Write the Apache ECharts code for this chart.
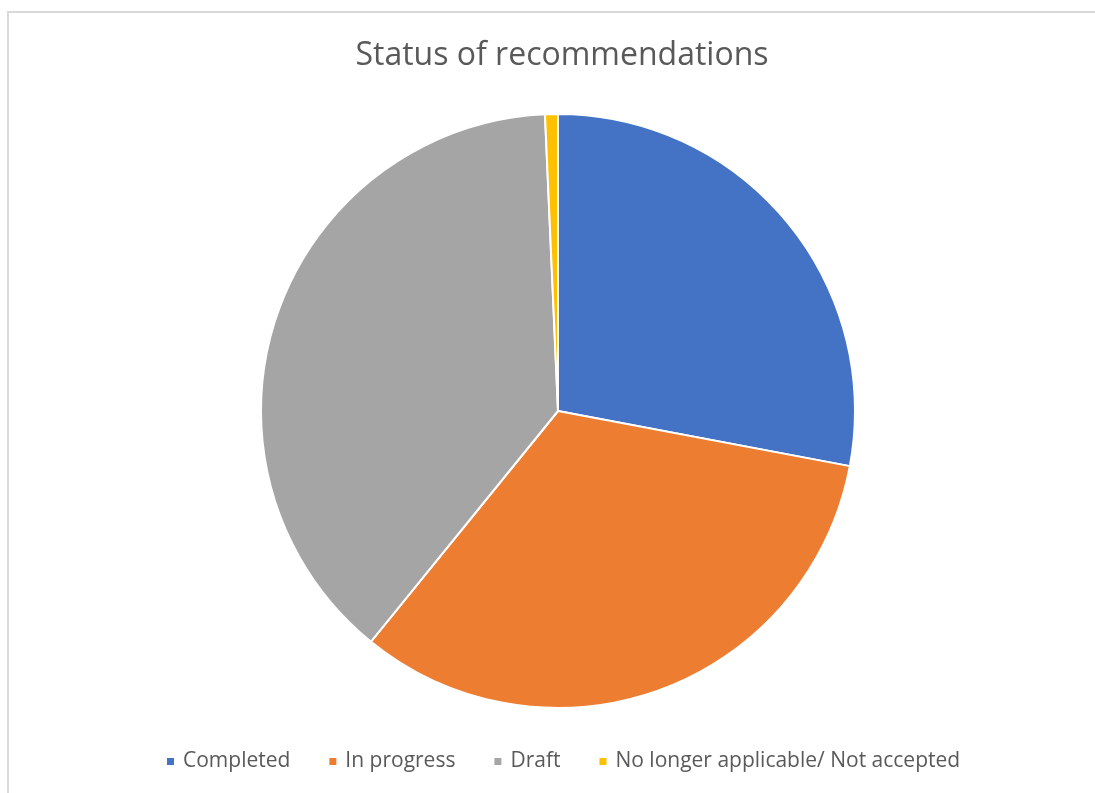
<!DOCTYPE html>
<html>
<head>
<meta charset="utf-8">
<script src="https://cdn.jsdelivr.net/npm/echarts@6/dist/echarts.min.js"></script>
<style>
  html, body { margin: 0; padding: 0; background: #ffffff; }
  #chart { width: 1095px; height: 793px; }
</style>
</head>
<body>
<div id="chart"></div>
<script>
// Recommendation counts by status
const categories = ['Completed', 'In progress', 'Draft', 'No longer applicable/ Not accepted'];
const counts = [40, 47, 55, 1];
const colors = ['#4472C4', '#ED7D31', '#A5A5A5', '#FFC000'];

const chart = echarts.init(document.getElementById('chart'));
chart.setOption({
  animation: false,
  color: colors,
  title: {
    text: 'Status of recommendations',
    left: 557,
    textAlign: 'center',
    top: 35,
    textStyle: {
      fontFamily: 'Open Sans',
      fontWeight: 'normal',
      fontSize: 32,
      color: '#595959'
    }
  },
  legend: {
    data: categories,
    bottom: 16,
    left: 160,
    icon: 'rect',
    itemWidth: 9,
    itemHeight: 9,
    itemGap: 37,
    textStyle: {
      fontFamily: 'Open Sans',
      fontSize: 21,
      color: '#595959',
      padding: [0, 0, 0, 3]
    }
  },
  graphic: [{
    type: 'rect',
    shape: { x: 8, y: 12, width: 1200, height: 1000 },
    style: { fill: 'none', stroke: '#d9d9d9', lineWidth: 2 },
    silent: true
  }],
  series: [{
    type: 'pie',
    center: [558, 411],
    radius: 297,
    startAngle: 90,
    clockwise: true,
    label: { show: false },
    labelLine: { show: false },
    itemStyle: { borderColor: '#ffffff', borderWidth: 2 },
    data: categories.map((name, i) => ({ name: name, value: counts[i] }))
  }]
});
</script>
</body>
</html>
